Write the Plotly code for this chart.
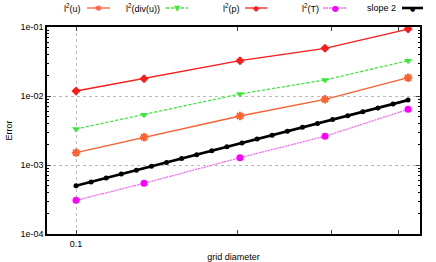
import plotly.graph_objects as go

# data
h = [0.1, 0.134, 0.2025, 0.292, 0.4175]
err_u = [1.51e-3, 2.52e-3, 5.13e-3, 8.95e-3, 1.84e-2]
err_divu = [3.33e-3, 5.36e-3, 1.07e-2, 1.71e-2, 3.25e-2]
err_p = [1.182e-2, 1.78e-2, 3.25e-2, 4.91e-2, 9.35e-2]
err_T = [3.08e-4, 5.43e-4, 1.277e-3, 2.61e-3, 6.41e-3]

slope_x = [0.1, 0.10671, 0.11387, 0.12151, 0.12966, 0.13836, 0.14764, 0.15755,
           0.16812, 0.1794, 0.19144, 0.20429, 0.218, 0.23262, 0.24831, 0.265,
           0.28279, 0.30177, 0.32202, 0.34362, 0.36669, 0.3913, 0.4175]
slope_y = [5.0e-4, 5.69e-4, 6.48e-4, 7.38e-4, 8.41e-4, 9.57e-4, 1.09e-3, 1.241e-3,
           1.413e-3, 1.609e-3, 1.832e-3, 2.087e-3, 2.376e-3, 2.706e-3, 3.083e-3,
           3.511e-3, 3.999e-3, 4.553e-3, 5.185e-3, 5.904e-3, 6.723e-3, 7.656e-3, 8.715e-3]

x_ticks = [0.1, 0.2, 0.3, 0.4]
x_ticktext = ["0.1", "", "", ""]
y_ticks = [1e-4, 1e-3, 1e-2, 1e-1]
y_ticktext = ["1e-04", "1e-03", "1e-02", "1e-01"]
y_minor = [m * 10 ** e for e in (-4, -3, -2) for m in range(2, 10)]

series_names = ["l<sup>2</sup>(u)", "l<sup>2</sup>(div(u))", "l<sup>2</sup>(p)",
                "l<sup>2</sup>(T)", "slope 2"]
colors = ["#ff6030", "#33ee33", "#ff1a1a", "#ff00ff", "black"]
line_colors = ["#ff6030", "#33ee33", "#ff1a1a", "#ff66ff", "black"]
dashes = ["solid", "3px,2px", "solid", "2px,1px", "solid"]
symbols = ["asterisk-open", "triangle-down", "diamond", "circle", "circle"]
glyphs = ["\u2731", "\u25bc", "\u25c6", "\u25cf", "\u25cf"]

FONT = "Liberation Sans, Arial, sans-serif"

W, H = 436, 262
ML, MR, MT, MB = 47, 16, 27, 28
PW, PH = W - ML - MR, H - MT - MB


def px_x(px):
    return (px - ML) / PW


def px_y(py):
    return (H - MB - py) / PH


fig = go.Figure()
xs = [h, h, h, h, slope_x]
ys = [err_u, err_divu, err_p, err_T, slope_y]
for i in range(5):
    if i == 0:
        marker = dict(symbol=symbols[i], size=7, line=dict(color=colors[i], width=2))
    elif i == 4:
        marker = dict(symbol=symbols[i], size=5, color=colors[i])
    else:
        marker = dict(symbol=symbols[i], size=7, color=colors[i])
    fig.add_trace(go.Scatter(x=xs[i], y=ys[i], name=series_names[i], mode="lines+markers",
                             line=dict(color=line_colors[i], width=2.6 if i == 4 else 1.3,
                                       dash=dashes[i]),
                             marker=marker))

# gnuplot-style key: text, then line sample with a marker
text_right = [83, 162, 242, 321, 398]
sample_l = [87, 166, 245, 323, 402]
sample_r = [110, 188, 267, 347, 423]
key_y = 8
for i in range(5):
    fig.add_annotation(xref="paper", yref="paper", x=px_x(text_right[i]), y=px_y(key_y),
                       text=series_names[i], showarrow=False, xanchor="right",
                       yanchor="middle", font=dict(size=9, family=FONT))
    fig.add_shape(type="line", xref="paper", yref="paper",
                  x0=px_x(sample_l[i]), x1=px_x(sample_r[i]),
                  y0=px_y(key_y), y1=px_y(key_y),
                  line=dict(color=line_colors[i], width=2.6 if i == 4 else 1.3,
                            dash=dashes[i]))
    fig.add_annotation(xref="paper", yref="paper",
                       x=px_x((sample_l[i] + sample_r[i]) / 2), y=px_y(key_y),
                       text=glyphs[i], showarrow=False, xanchor="center", yanchor="middle",
                       font=dict(size=8 if i != 4 else 6, family="DejaVu Sans", color=colors[i]))

fig.update_layout(
    width=W, height=H,
    margin=dict(l=ML, r=MR, t=MT, b=MB, autoexpand=False),
    paper_bgcolor="white", plot_bgcolor="white",
    font=dict(family=FONT, size=9, color="black"),
    showlegend=False,
    hovermode=False,
    xaxis=dict(type="log", range=[-1.0542, -0.357], automargin=False,
               tickvals=x_ticks, ticktext=x_ticktext, ticks="inside", ticklen=4,
               showgrid=False, showline=True, linecolor="black", linewidth=1.5,
               mirror="ticks", zeroline=False,
               minor=dict(tickvals=[0.1], ticks="", showgrid=True,
                          gridcolor="#bbbbbb", griddash="dot", gridwidth=1),
               title=dict(text="grid diameter", standoff=8, font=dict(size=9))),
    yaxis=dict(type="log", range=[-4, -1], automargin=False,
               tickvals=y_ticks, ticktext=y_ticktext, ticks="inside", ticklen=4,
               showgrid=True, gridcolor="#bbbbbb", griddash="dot", gridwidth=1,
               showline=True, linecolor="black", linewidth=1.5, mirror="ticks",
               zeroline=False,
               minor=dict(tickvals=y_minor, ticks="inside", ticklen=2, showgrid=False,
                          tickcolor="black"),
               title=dict(text="Error", standoff=6, font=dict(size=9))),
)

fig.write_html("out.html", config={"displayModeBar": False},
               post_script="document.body.style.margin='0';document.body.style.padding='0';")
